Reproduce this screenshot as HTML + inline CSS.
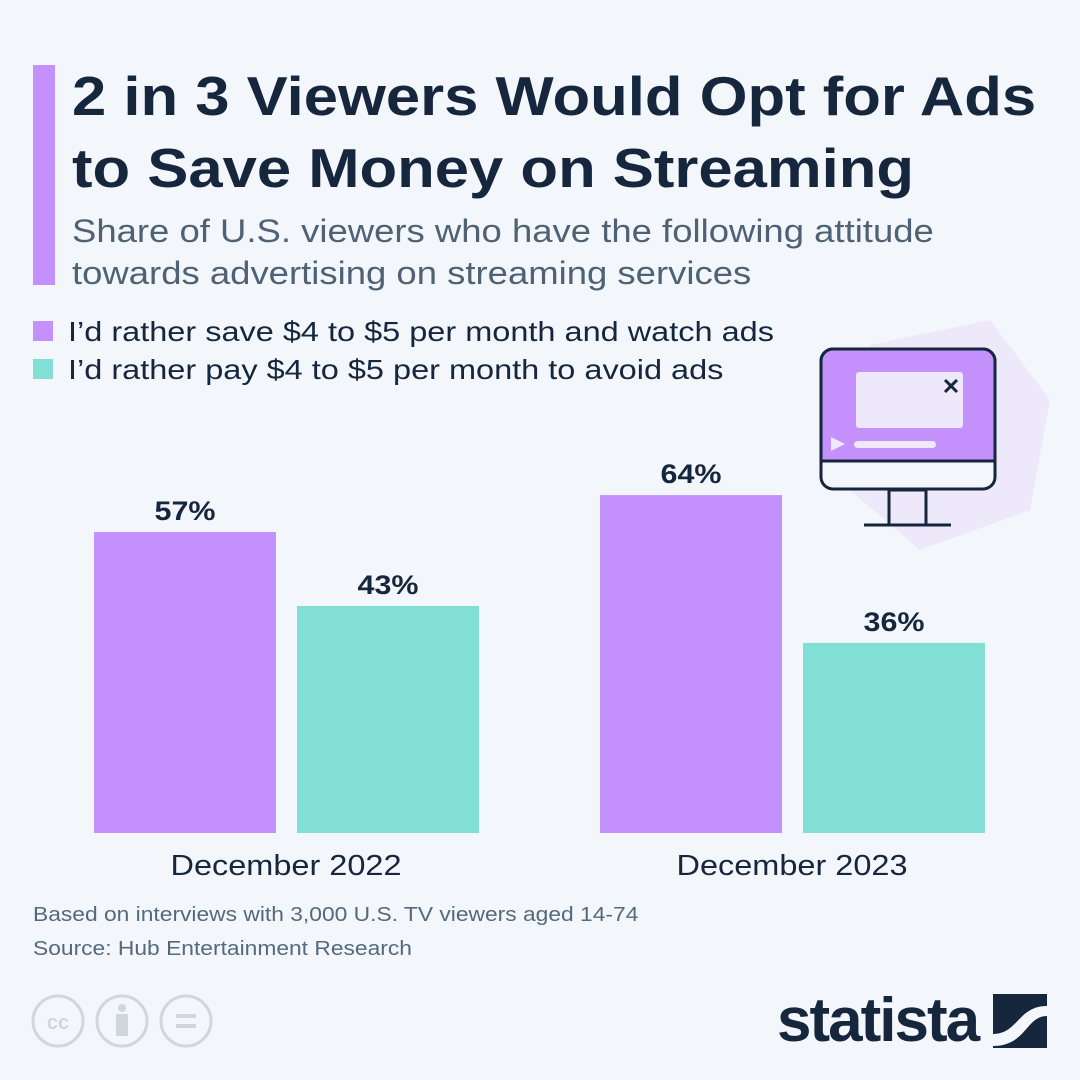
<!DOCTYPE html>
<html><head><meta charset="utf-8"><style>
body{margin:0;width:1080px;height:1080px;background:#f3f7fb;font-family:"Liberation Sans",sans-serif;overflow:hidden;position:relative}
.a{position:absolute;white-space:nowrap;transform-origin:left top}
</style></head><body>
<div class="a" style="left:33px;top:65px;width:22px;height:220px;background:#c490fc"></div>
<div class="a" style="left:72px;top:60px;font-size:55px;font-weight:bold;color:#15263d;line-height:72px;transform:scaleX(1.12)">2 in 3 Viewers Would Opt for Ads<br>to Save Money on Streaming</div>
<div class="a" style="left:72px;top:210px;font-size:32px;color:#4f6275;line-height:42px;transform:scaleX(1.14)">Share of U.S. viewers who have the following attitude<br>towards advertising on streaming services</div>
<div class="a" style="left:33px;top:321px;width:20px;height:20px;background:#c490fc"></div>
<div class="a" style="left:33px;top:359px;width:20px;height:20px;background:#82dfd6"></div>
<div class="a" style="left:68px;top:314px;font-size:28px;color:#15263d;line-height:36px;transform:scaleX(1.16)">I’d rather save $4 to $5 per month and watch ads</div>
<div class="a" style="left:68px;top:352px;font-size:28px;color:#15263d;line-height:36px;transform:scaleX(1.16)">I’d rather pay $4 to $5 per month to avoid ads</div>
<svg class="a" style="left:800px;top:310px" width="270" height="240" viewBox="0 0 270 240">
<path d="M70 35 L190 10 L250 90 L230 200 L120 240 L50 180 Z" fill="#ede8fa"/>
<rect x="21" y="39" width="174" height="140" rx="12" fill="#f3f7fb" stroke="#15263d" stroke-width="3"/>
<path d="M21 151 V51 a12 12 0 0 1 12-12 H183 a12 12 0 0 1 12 12 V151 Z" fill="#c490fc" stroke="#15263d" stroke-width="3"/>
<rect x="56" y="62" width="107" height="56" rx="3" fill="#efe8fb"/>
<path d="M145 70 l12 12 M157 70 l-12 12" stroke="#15263d" stroke-width="3"/>
<path d="M31 127 l14 7 l-14 7 z" fill="#efe8fb"/>
<rect x="54" y="131" width="82" height="7" rx="3.5" fill="#efe8fb"/>
<rect x="89" y="180" width="37" height="35" fill="none" stroke="#15263d" stroke-width="3"/>
<line x1="64" y1="215" x2="151" y2="215" stroke="#15263d" stroke-width="3"/>
</svg>
<svg class="a" id="chart" style="left:0;top:0" width="1080" height="900"></svg>
<div class="a" style="left:33px;top:898px;font-size:20px;color:#55697d;line-height:34px;transform:scaleX(1.14)">Based on interviews with 3,000 U.S. TV viewers aged 14-74<br>Source: Hub Entertainment Research</div>
<svg class="a" style="left:30px;top:992px" width="190" height="60">
<g fill="none" stroke="#cfd6dd" stroke-width="3"><circle cx="28" cy="29" r="25"/><circle cx="92" cy="29" r="25"/><circle cx="156" cy="29" r="25"/></g>
<text x="28" y="37" font-size="20" font-weight="bold" fill="#cfd6dd" text-anchor="middle" font-family="Liberation Sans">cc</text>
<circle cx="92" cy="16" r="4" fill="#cfd6dd"/><rect x="86" y="22" width="12" height="22" fill="#cfd6dd"/>
<rect x="146" y="22" width="20" height="4" fill="#cfd6dd"/><rect x="146" y="32" width="20" height="4" fill="#cfd6dd"/>
</svg>
<div class="a" style="left:777px;top:985px;font-size:62px;font-weight:bold;color:#15263d;letter-spacing:-2px;transform:scaleX(1.0)">statista</div>
<svg class="a" style="left:993px;top:994px" width="54" height="54"><rect width="54" height="54" fill="#15263d"/><path d="M0 40 C25 40 25 12 54 12 V22 C33 22 33 52 0 52 Z" fill="#f3f7fb"/></svg>
<script>
const categories=["December 2022","December 2023"];
const watchAds=[57,64];
const avoidAds=[43,36];
const valueLabels=[["57%","43%"],["64%","36%"]];
const svg=document.getElementById('chart');
const NS='http://www.w3.org/2000/svg';
const baseY=833, pxPer=5.28, barW=182;
const groupX=[94,600];
function y(v){return baseY-v*pxPer;}
function add(tag,attrs){const e=document.createElementNS(NS,tag);for(const k in attrs)e.setAttribute(k,attrs[k]);svg.appendChild(e);return e;}
categories.forEach((c,i)=>{
  [[watchAds,'#c490fc',0],[avoidAds,'#82dfd6',1]].forEach(([arr,col,j])=>{
    const x=groupX[i]+j*203;
    const r=add('rect',{x:x,y:y(arr[i]),width:barW,height:baseY-y(arr[i]),fill:col});
    
    
    const t=add('text',{x:x+barW/2,y:y(arr[i])-12,'text-anchor':'middle','font-size':27,'font-weight':'bold',fill:'#15263d','font-family':'Liberation Sans',textLength:61,lengthAdjust:'spacingAndGlyphs'});
    t.textContent=valueLabels[i][j];
    
    
  });
  const l=add('text',{x:groupX[i]+192,y:875,'text-anchor':'middle','font-size':29,fill:'#15263d','font-family':'Liberation Sans',textLength:231,lengthAdjust:'spacingAndGlyphs'});
  l.textContent=c;
  
  
});
</script>
</body></html>
